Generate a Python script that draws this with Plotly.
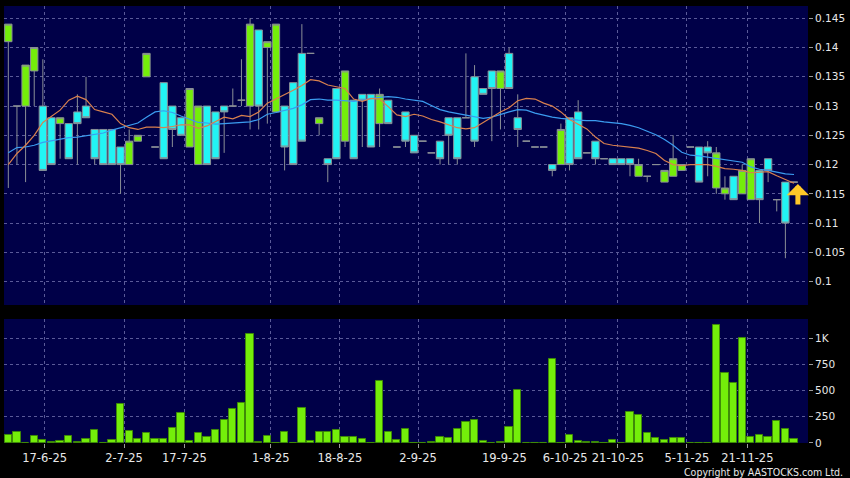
import plotly.graph_objects as go

# ---------------- data ----------------
opens = [0.141, 0.130, 0.130, 0.136, 0.130, 0.128, 0.127, 0.127, 0.129, 0.130,
         0.126, 0.126, 0.126, 0.123, 0.120, 0.124, 0.135, 0.123, 0.134, 0.130,
         0.128, 0.123, 0.120, 0.130, 0.129, 0.130, 0.130, 0.131, 0.130, 0.143,
         0.140, 0.129, 0.130, 0.134, 0.139, 0.139, 0.127, 0.121, 0.133, 0.124,
         0.131, 0.132, 0.132, 0.127, 0.131, 0.123, 0.129, 0.125, 0.124, 0.122,
         0.124, 0.128, 0.128, 0.128, 0.135, 0.133, 0.136, 0.133, 0.139, 0.128,
         0.124, 0.123, 0.123, 0.120, 0.120, 0.128, 0.129, 0.122, 0.124, 0.121,
         0.121, 0.121, 0.121, 0.118, 0.118, 0.120, 0.117, 0.118, 0.119, 0.123,
         0.123, 0.123, 0.116, 0.115, 0.118, 0.115, 0.114, 0.119, 0.121, 0.114,
         0.117, 0.117]
highs = [0.144, 0.130, 0.137, 0.140, 0.138, 0.128, 0.128, 0.127, 0.132, 0.135,
         0.126, 0.126, 0.126, 0.123, 0.126, 0.125, 0.139, 0.123, 0.134, 0.130,
         0.128, 0.133, 0.130, 0.130, 0.129, 0.130, 0.133, 0.138, 0.145, 0.143,
         0.141, 0.144, 0.130, 0.134, 0.144, 0.139, 0.128, 0.121, 0.133, 0.136,
         0.131, 0.132, 0.132, 0.133, 0.131, 0.123, 0.129, 0.125, 0.124, 0.122,
         0.124, 0.128, 0.128, 0.139, 0.137, 0.133, 0.136, 0.136, 0.140, 0.132,
         0.124, 0.123, 0.123, 0.120, 0.127, 0.128, 0.131, 0.122, 0.124, 0.121,
         0.121, 0.121, 0.121, 0.121, 0.118, 0.120, 0.119, 0.125, 0.120, 0.123,
         0.123, 0.124, 0.123, 0.118, 0.118, 0.120, 0.121, 0.119, 0.121, 0.114,
         0.117, 0.117]
lows = [0.116, 0.120, 0.117, 0.130, 0.119, 0.120, 0.121, 0.121, 0.120, 0.128,
        0.120, 0.120, 0.120, 0.115, 0.120, 0.124, 0.135, 0.123, 0.121, 0.123,
        0.125, 0.123, 0.120, 0.120, 0.121, 0.122, 0.130, 0.130, 0.126, 0.126,
        0.127, 0.129, 0.119, 0.120, 0.124, 0.139, 0.125, 0.117, 0.121, 0.123,
        0.121, 0.123, 0.123, 0.123, 0.127, 0.123, 0.123, 0.122, 0.124, 0.122,
        0.120, 0.120, 0.120, 0.128, 0.123, 0.132, 0.124, 0.126, 0.133, 0.123,
        0.124, 0.123, 0.123, 0.118, 0.120, 0.119, 0.121, 0.122, 0.120, 0.121,
        0.120, 0.120, 0.118, 0.118, 0.117, 0.120, 0.117, 0.118, 0.119, 0.123,
        0.117, 0.118, 0.115, 0.114, 0.114, 0.115, 0.114, 0.110, 0.117, 0.112,
        0.104, 0.117]
closes = [0.144, 0.130, 0.137, 0.140, 0.119, 0.120, 0.128, 0.121, 0.127, 0.128,
          0.121, 0.120, 0.120, 0.120, 0.124, 0.125, 0.139, 0.123, 0.121, 0.126,
          0.125, 0.133, 0.130, 0.120, 0.121, 0.129, 0.130, 0.131, 0.144, 0.130,
          0.141, 0.144, 0.123, 0.120, 0.124, 0.139, 0.128, 0.120, 0.121, 0.136,
          0.121, 0.131, 0.123, 0.132, 0.127, 0.123, 0.124, 0.122, 0.124, 0.122,
          0.121, 0.125, 0.121, 0.128, 0.124, 0.132, 0.133, 0.136, 0.133, 0.126,
          0.124, 0.123, 0.123, 0.119, 0.126, 0.120, 0.121, 0.122, 0.121, 0.121,
          0.120, 0.120, 0.120, 0.120, 0.118, 0.120, 0.119, 0.121, 0.120, 0.123,
          0.117, 0.122, 0.122, 0.116, 0.114, 0.119, 0.121, 0.114, 0.119, 0.114,
          0.110, 0.117]
volumes = [76, 108, 0, 70, 32, 10, 19, 64, 6, 41,
           121, 0, 29, 369, 111, 35, 96, 35, 35, 143,
           287, 22, 96, 54, 127, 223, 322, 382, 1041, 10,
           70, 0, 108, 0, 334, 22, 102, 108, 121, 57,
           57, 41, 0, 596, 108, 29, 131, 5, 3, 10,
           54, 45, 137, 204, 220, 22, 5, 13, 153, 510,
           3, 3, 0, 803, 0, 73, 19, 13, 13, 3,
           25, 0, 293, 271, 99, 51, 29, 45, 51, 0,
           3, 0, 1127, 666, 576, 1000, 54, 80, 61, 213,
           137, 41]
ma10 = [0.1200, 0.1219, 0.1233, 0.1250, 0.1272, 0.1283, 0.1293, 0.1310, 0.1317, 0.1311,
        0.1294, 0.1290, 0.1286, 0.1270, 0.1263, 0.1260, 0.1264, 0.1264, 0.1263, 0.1265,
        0.1268, 0.1268, 0.1262, 0.1266, 0.1274, 0.1281, 0.1278, 0.1284, 0.1282, 0.1290,
        0.1305, 0.1312, 0.1320, 0.1327, 0.1335, 0.1345, 0.1343, 0.1336, 0.1333, 0.1330,
        0.1312, 0.1308, 0.1313, 0.1312, 0.1299, 0.1285, 0.1282, 0.1286, 0.1283, 0.1277,
        0.1273, 0.1268, 0.1263, 0.1261, 0.1263, 0.1272, 0.1281, 0.1290, 0.1297, 0.1309,
        0.1313, 0.1312, 0.1305, 0.1300, 0.1290, 0.1277, 0.1269, 0.1261, 0.1247, 0.1236,
        0.1233, 0.1231, 0.1230, 0.1228, 0.1224, 0.1219, 0.1207, 0.1200, 0.1198, 0.1200,
        0.1200, 0.1200, 0.1197, 0.1193, 0.1192, 0.1190, 0.1186, 0.1187, 0.1188, 0.1181,
        0.1174, 0.1168]
ma20 = [0.1220, 0.1229, 0.1230, 0.1233, 0.1238, 0.1241, 0.1244, 0.1246, 0.1247, 0.1249,
        0.1252, 0.1254, 0.1259, 0.1263, 0.1267, 0.1271, 0.1281, 0.1290, 0.1292, 0.1289,
        0.1283, 0.1278, 0.1272, 0.1271, 0.1269, 0.1270, 0.1271, 0.1272, 0.1273, 0.1277,
        0.1286, 0.1289, 0.1292, 0.1296, 0.1302, 0.1311, 0.1312, 0.1310, 0.1310, 0.1309,
        0.1308, 0.1310, 0.1313, 0.1315, 0.1316, 0.1315, 0.1312, 0.1310, 0.1308, 0.1301,
        0.1294, 0.1290, 0.1287, 0.1285, 0.1282, 0.1279, 0.1281, 0.1286, 0.1290, 0.1294,
        0.1293, 0.1288, 0.1284, 0.1281, 0.1279, 0.1277, 0.1276, 0.1275, 0.1275, 0.1273,
        0.1272, 0.1270, 0.1267, 0.1263, 0.1257, 0.1251, 0.1243, 0.1233, 0.1221, 0.1216,
        0.1215, 0.1213, 0.1211, 0.1209, 0.1207, 0.1204, 0.1196, 0.1192, 0.1190, 0.1187,
        0.1184, 0.1183]
date_tick_labels = ["17-6-25", "2-7-25", "17-7-25", "1-8-25", "18-8-25", "2-9-25",
                    "19-9-25", "6-10-25", "21-10-25", "5-11-25", "21-11-25"]
date_tick_index = [4.2, 13.4, 20.4, 30.4, 38.4, 47.45, 57.45, 64.5, 70.6, 78.6, 85.6]
price_ticks = [0.1, 0.105, 0.11, 0.115, 0.12, 0.125, 0.13, 0.135, 0.14, 0.145]
price_tick_text = ["0.1", "0.105", "0.11", "0.115", "0.12", "0.125", "0.13", "0.135", "0.14", "0.145"]
vol_ticks = [0, 250, 500, 750, 1000]
vol_tick_text = ["0", "250", "500", "750", "1K"]

# ---------------- styling ----------------
idx = list(range(len(closes)))
GREEN = "#74ee0a"
CYAN = "#22f4f4"
OUTLINE = "#8a8f96"
NAVY = "#000048"
GRID = "#5a5a98"
TXT = "#e8e8e8"
FONT = "DejaVu Sans"

fig = go.Figure()
fig.add_trace(go.Candlestick(
    x=idx, open=opens, high=highs, low=lows, close=closes,
    increasing=dict(fillcolor=GREEN, line=dict(color=OUTLINE, width=1)),
    decreasing=dict(fillcolor=CYAN, line=dict(color=OUTLINE, width=1)),
    whiskerwidth=0, xaxis="x", yaxis="y", showlegend=False, hoverinfo="skip"))
fig.add_trace(go.Scatter(x=idx, y=ma20, mode="lines", line=dict(color="#3b9cf0", width=1.2),
                         xaxis="x", yaxis="y", hoverinfo="skip"))
fig.add_trace(go.Scatter(x=idx, y=ma10, mode="lines", line=dict(color="#d9804e", width=1.2),
                         xaxis="x", yaxis="y", hoverinfo="skip"))
fig.add_trace(go.Bar(x=idx, y=volumes, width=0.84,
                     marker=dict(color=GREEN, line=dict(color="#3f8a08", width=1)),
                     xaxis="x2", yaxis="y2", hoverinfo="skip"))

# yellow "latest" arrow under the last (doji) bar
fig.add_annotation(x=len(closes) - 1 + 0.45, y=closes[-1], xref="x", yref="y",
                   text="", showarrow=True, ax=0, ay=24, axref="pixel", ayref="pixel",
                   arrowhead=1, arrowsize=0.75, arrowwidth=5, arrowcolor="#ffc828",
                   standoff=2)

fig.add_annotation(x=1.046, y=-0.066, xref="paper", yref="paper", xanchor="right",
                   yanchor="middle", showarrow=False,
                   text="Copyright by AASTOCKS.com Ltd.",
                   font=dict(family="DejaVu Sans Condensed, Liberation Sans", size=10.5, color=TXT))

xr = [-0.5, 92.62]
fig.update_layout(
    width=850, height=478,
    margin=dict(l=4, r=42, t=6, b=35),
    paper_bgcolor="black", plot_bgcolor=NAVY,
    showlegend=False, boxgap=0.15, boxgroupgap=0, bargap=0,
    font=dict(family=FONT, color=TXT),
    xaxis=dict(domain=[0, 1], anchor="y", range=xr, tickvals=date_tick_index,
               showticklabels=False, ticks="", showgrid=True, gridcolor=GRID,
               griddash="3px,3px", gridwidth=1, zeroline=False, showline=False,
               rangeslider=dict(visible=False), fixedrange=True),
    yaxis=dict(domain=[0.3158, 1], anchor="x", range=[0.096, 0.1471], side="right",
               tickvals=price_ticks, ticktext=price_tick_text, ticks="outside",
               ticklen=4, tickcolor="#9a9a9a", tickfont=dict(size=10.5, color=TXT),
               showgrid=True, gridcolor=GRID, griddash="3px,3px", zeroline=False,
               showline=False),
    xaxis2=dict(domain=[0, 1], anchor="y2", range=xr, tickvals=date_tick_index,
                ticktext=date_tick_labels, ticks="outside", ticklen=4, tickcolor="#9a9a9a",
                tickfont=dict(size=11.5, color=TXT), showgrid=True, gridcolor=GRID,
                griddash="3px,3px", zeroline=False, showline=False),
    yaxis2=dict(domain=[0, 0.2838], anchor="x2", range=[0, 1184], side="right",
                tickvals=vol_ticks, ticktext=vol_tick_text, ticks="outside", ticklen=4,
                tickcolor="#9a9a9a", tickfont=dict(size=10.5, color=TXT),
                showgrid=True, gridcolor=GRID, griddash="3px,3px", zeroline=False,
                showline=False),
)

fig.write_html("out.html", config={"displayModeBar": False},
               post_script="document.body.style.margin='0';document.body.style.padding='0';"
                           "document.body.style.background='black';")
